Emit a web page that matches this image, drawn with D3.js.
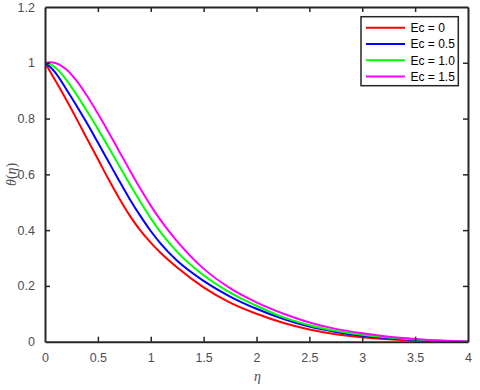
<!DOCTYPE html>
<html>
<head>
<meta charset="utf-8">
<script src="https://cdn.jsdelivr.net/npm/d3@7"></script>
<style>
  html, body { margin: 0; padding: 0; background: #ffffff; }
  svg { display: block; }
</style>
</head>
<body>
<svg id="chart" width="480" height="390"></svg>
<script>
// ---- data ----
const eta = [0, 0.05, 0.1, 0.2, 0.3, 0.4, 0.5, 0.6, 0.7, 0.8, 0.9, 1.0, 1.1, 1.25, 1.5, 1.75, 2.0, 2.25, 2.5, 2.75, 3.0, 3.25, 3.5, 3.75, 4.0];
const thetaEc0   = [1, 0.968, 0.935, 0.868, 0.798, 0.726, 0.655, 0.583, 0.515, 0.453, 0.400, 0.355, 0.316, 0.266, 0.195, 0.140, 0.100, 0.068, 0.044, 0.027, 0.016, 0.009, 0.004, 0.001, 0];
const thetaEc05  = [1, 0.985, 0.964, 0.906, 0.845, 0.781, 0.714, 0.646, 0.578, 0.512, 0.452, 0.397, 0.349, 0.290, 0.218, 0.162, 0.118, 0.082, 0.054, 0.035, 0.021, 0.012, 0.006, 0.002, 0];
const thetaEc10  = [1, 0.995, 0.982, 0.940, 0.885, 0.825, 0.763, 0.698, 0.632, 0.566, 0.503, 0.443, 0.389, 0.322, 0.238, 0.176, 0.129, 0.088, 0.059, 0.039, 0.025, 0.015, 0.008, 0.003, 0];
const thetaEc15  = [1, 1.002, 0.999, 0.977, 0.935, 0.880, 0.818, 0.752, 0.684, 0.616, 0.550, 0.488, 0.432, 0.360, 0.262, 0.192, 0.141, 0.101, 0.069, 0.046, 0.030, 0.018, 0.010, 0.004, 0];
const seriesNames = ["Ec = 0", "Ec = 0.5", "Ec = 1.0", "Ec = 1.5"];
const seriesValues = [thetaEc0, thetaEc05, thetaEc10, thetaEc15];
const seriesColors = ["#ff0000", "#0000ff", "#00ff00", "#ff00ff"];
const xTicks = [0, 0.5, 1, 1.5, 2, 2.5, 3, 3.5, 4];
const yTicks = [0, 0.2, 0.4, 0.6, 0.8, 1, 1.2];

// ---- layout ----
const L = 45, R = 468, T = 7, B = 341.7;
const svg = d3.select("#chart");
const x = d3.scaleLinear().domain([0, 4]).range([L, R]);
const y = d3.scaleLinear().domain([0, 1.2]).range([B, T]);
const axisColor = "#262626";
const labelColor = "#4d4d4d";

svg.append("defs").append("clipPath").attr("id", "clip")
  .append("rect").attr("x", L).attr("y", T).attr("width", R - L).attr("height", B - T);

const line = d3.line()
  .x((d, i) => x(eta[i]))
  .y(d => y(d))
  .curve(d3.curveMonotoneX);

const g = svg.append("g").attr("clip-path", "url(#clip)");
seriesValues.forEach((vals, k) => {
  g.append("path")
    .attr("d", line(vals))
    .attr("fill", "none")
    .attr("stroke", seriesColors[k])
    .attr("stroke-width", 2);
});

const tickLen = 5;
const fontFam = "Arial, 'Liberation Sans', Helvetica, sans-serif";

const xAxisB = d3.axisBottom(x).tickValues(xTicks).tickSizeInner(-tickLen).tickSizeOuter(0)
  .tickPadding(tickLen + 6).tickFormat(d3.format(""));
const gx = svg.append("g").attr("transform", `translate(0,${B})`).call(xAxisB);

const xAxisT = d3.axisTop(x).tickValues(xTicks).tickSizeInner(-tickLen).tickSizeOuter(0).tickFormat("");
const gxt = svg.append("g").attr("transform", `translate(0,${T})`).call(xAxisT);

const yAxisL = d3.axisLeft(y).tickValues(yTicks).tickSizeInner(-tickLen).tickSizeOuter(0)
  .tickPadding(tickLen + 5).tickFormat(d3.format(""));
const gy = svg.append("g").attr("transform", `translate(${L},0)`).call(yAxisL);

const yAxisR = d3.axisRight(y).tickValues(yTicks).tickSizeInner(-tickLen).tickSizeOuter(0).tickFormat("");
const gyr = svg.append("g").attr("transform", `translate(${R},0)`).call(yAxisR);

[gx, gxt, gy, gyr].forEach(a => {
  a.select(".domain").attr("stroke", axisColor).attr("stroke-width", 2);
  a.selectAll(".tick line").attr("stroke", axisColor).attr("stroke-width", 1.5);
  a.selectAll(".tick text").attr("fill", labelColor).attr("font-size", 12.5).attr("font-family", fontFam);
});
gx.selectAll(".tick line").filter(d => d === 0 || d === 4).remove();
gxt.selectAll(".tick line").filter(d => d === 0 || d === 4).remove();
gy.selectAll(".tick line").filter(d => d === 0 || d === 1.2).remove();
gyr.selectAll(".tick line").filter(d => d === 0 || d === 1.2).remove();

// axis labels
svg.append("text")
  .attr("x", (L + R) / 2 + 1).attr("y", 381)
  .attr("text-anchor", "middle")
  .attr("font-family", "'Liberation Serif', 'Times New Roman', serif")
  .attr("font-style", "italic")
  .attr("font-size", 14)
  .attr("fill", labelColor)
  .text("η");

const yl = svg.append("text")
  .attr("transform", `translate(16,${(T + B) / 2}) rotate(-90)`)
  .attr("text-anchor", "middle")
  .attr("font-family", "'Liberation Serif', 'Times New Roman', serif")
  .attr("font-size", 14)
  .attr("fill", labelColor);
yl.append("tspan").attr("font-style", "italic").text("θ");
yl.append("tspan").text("(");
yl.append("tspan").attr("font-style", "italic").text("η");
yl.append("tspan").text(")");

// legend
const lg = svg.append("g");
lg.append("rect")
  .attr("x", 361).attr("y", 16.7).attr("width", 97.3).attr("height", 69)
  .attr("fill", "#ffffff").attr("stroke", axisColor).attr("stroke-width", 1.5);
const rowY = [27.7, 44, 60.3, 76.6];
seriesNames.forEach((name, k) => {
  lg.append("line")
    .attr("x1", 366).attr("x2", 405)
    .attr("y1", rowY[k]).attr("y2", rowY[k])
    .attr("stroke", seriesColors[k]).attr("stroke-width", 2);
  lg.append("text")
    .attr("x", 410.5).attr("y", rowY[k])
    .attr("dy", "0.35em")
    .attr("font-family", fontFam)
    .attr("font-size", 12)
    .attr("fill", "#000000")
    .text(name);
});
</script>
</body>
</html>
